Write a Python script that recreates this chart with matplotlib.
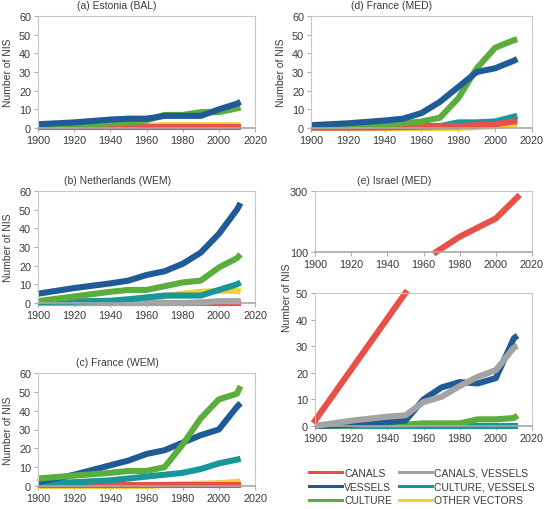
"""Number of NIS per introduction vector over time, five regional panels."""
import matplotlib
matplotlib.use("Agg")
import matplotlib.pyplot as plt
from matplotlib.lines import Line2D

plt.rcParams["font.family"] = ["Liberation Sans", "DejaVu Sans"]
plt.rcParams["font.size"] = 7.5
plt.rcParams["text.color"] = "#3a3a3a"
plt.rcParams["axes.labelcolor"] = "#3a3a3a"
plt.rcParams["xtick.color"] = "#3a3a3a"
plt.rcParams["ytick.color"] = "#3a3a3a"

years = [1900, 1920, 1940, 1950, 1960, 1970, 1980, 1990, 2000, 2010, 2012]

# (a) Estonia (BAL)
est_canals = [0.3, 0.3, 0.3, 0.3, 0.3, 0.3, 0.3, 0.3, 0.3, 0.3, 0.3]
est_vessels = [2, 3, 4.5, 5, 5, 6.5, 6.5, 6.5, 10, 13, 14]
est_culture = [1, 1.5, 2.5, 3, 4, 7, 7, 8.5, 8.5, 10.5, 11]
est_other = [1, 1, 1, 1, 1, 1.5, 1.5, 1.5, 1.5, 1.5, 1.5]

# (b) Netherlands (WEM)
nl_canals = [0.2, 0.2, 0.2, 0.2, 0.2, 0.2, 0.2, 0.2, 0.2, 0.2, 0.2]
nl_vessels = [5, 8, 10.5, 12, 15, 17, 21, 27, 37, 50, 53.5]
nl_culture = [1, 3.5, 6, 7, 7, 9, 11, 12, 19, 24, 26]
nl_cult_vess = [0.5, 0.8, 1.2, 2, 3, 4, 4, 4, 7, 10, 11]
nl_canals_vess = [0, 0, 0, 0, 0, 0, 0, 0.3, 1, 1, 1]
nl_other = [0, 0.5, 1, 1.5, 2, 3.5, 5, 6, 6.5, 6.5, 6]

# (c) France (WEM)
frw_canals = [0.5, 0.5, 0.5, 0.5, 0.5, 0.5, 0.5, 0.5, 0.5, 0.5, 0.5]
frw_vessels = [2, 6, 11, 13.5, 17, 19, 23, 27, 30, 42, 44]
frw_culture = [4, 5.5, 7, 8, 8, 10, 22, 36, 46, 49, 53]
frw_cult_vess = [1.5, 2, 3, 4, 5, 6, 7, 9, 12, 14, 14.5]
frw_other = [0, 0, 0, 0, 0, 0.5, 1, 1.2, 1.5, 2.2, 2.5]

# (d) France (MED)
frm_canals = [0.2, 0.2, 0.3, 0.5, 0.7, 1, 1, 1.5, 2, 3.5, 3.5]
frm_vessels = [1.5, 2.5, 4, 5, 8, 14, 22, 30, 32, 36, 37]
frm_culture = [1, 1.5, 2, 2.5, 3.5, 5.5, 16, 32, 43, 47, 47.5]
frm_cult_vess = [1, 1, 1, 1, 1, 1, 3, 3, 3.5, 6, 6.5]
frm_canals_vess = [1, 1, 1, 1, 1, 1, 1, 1, 2.5, 4.5, 5]
frm_other = [0, 0, 0, 0, 0, 0, 0, 0.5, 1, 1.8, 2]

# (e) Israel (MED)
isr_canals_low_years = [1900, 1950]
isr_canals_low = [2, 50]
isr_canals_high_years = [1967, 1980, 1990, 2000, 2012]
isr_canals_high = [100, 150, 180, 210, 280]
isr_vessels = [0, 0.5, 1.5, 2, 10, 14.5, 16.5, 16, 18, 33, 34]
isr_canals_vess = [0, 2, 3.5, 4, 9, 11, 15, 18.5, 21, 29.5, 30]
isr_culture = [0, 0.2, 0.5, 0.5, 1, 1, 1, 2.5, 2.5, 3, 4]
isr_cult_vess = [0, 0, 0, 0, 0, 0, 0, 0, 0, 0, 0]

C_CANALS = "#e8514a"
C_VESSELS = "#1f5b96"
C_CULTURE = "#5bae3d"
C_CANALS_VESS = "#a3a3a3"
C_CULT_VESS = "#17979a"
C_OTHER = "#f5d033"
LW = 4.4

W, H = 545, 510
fig = plt.figure(figsize=(W / 100, H / 100), dpi=100)


def make_ax(x0, x1, ytop, ybot):
    ax = fig.add_axes([x0 / W, 1 - ybot / H, (x1 - x0) / W, (ybot - ytop) / H])
    for s in ax.spines.values():
        s.set_color("#c8c8c8")
        s.set_linewidth(0.8)
    ax.spines["bottom"].set_color("#a8a8a8")
    ax.spines["bottom"].set_linewidth(1.2)
    ax.tick_params(length=3, width=0.8, color="#b0b0b0", pad=2, labelsize=7.8)
    ax.set_xlim(1900, 2020)
    ax.set_xticks(range(1900, 2021, 20))
    return ax


def draw(ax, series):
    for vals, col in series:
        ax.plot(years, vals, color=col, lw=LW, clip_on=False, solid_capstyle="butt")


def title(ax, txt):
    ax.annotate(txt, xy=(0.365, 1.0), xycoords="axes fraction", xytext=(0, 4),
                textcoords="offset points", ha="center", va="bottom", fontsize=7.5)


# (a)
ax = make_ax(38, 255, 17, 129)
draw(ax, [(est_other, C_OTHER), (est_canals, C_CANALS),
          (est_culture, C_CULTURE), (est_vessels, C_VESSELS)])
ax.set_ylim(0, 60)
ax.set_yticks(range(0, 61, 10))
ax.set_ylabel("Number of NIS", labelpad=4)
title(ax, "(a) Estonia (BAL)")

# (b)
ax = make_ax(38, 255, 192, 304)
draw(ax, [(nl_other, C_OTHER), (nl_canals, C_CANALS), (nl_canals_vess, C_CANALS_VESS),
          (nl_cult_vess, C_CULT_VESS), (nl_culture, C_CULTURE), (nl_vessels, C_VESSELS)])
ax.set_ylim(0, 60)
ax.set_yticks(range(0, 61, 10))
ax.set_ylabel("Number of NIS", labelpad=4)
title(ax, "(b) Netherlands (WEM)")

# (c)
ax = make_ax(38, 255, 374, 487)
draw(ax, [(frw_other, C_OTHER), (frw_canals, C_CANALS), (frw_cult_vess, C_CULT_VESS),
          (frw_vessels, C_VESSELS), (frw_culture, C_CULTURE)])
ax.set_ylim(0, 60)
ax.set_yticks(range(0, 61, 10))
ax.set_ylabel("Number of NIS", labelpad=4)
title(ax, "(c) France (WEM)")

# (d)
ax = make_ax(311, 532, 17, 129)
draw(ax, [(frm_other, C_OTHER), (frm_canals_vess, C_CANALS_VESS),
          (frm_cult_vess, C_CULT_VESS), (frm_canals, C_CANALS),
          (frm_culture, C_CULTURE), (frm_vessels, C_VESSELS)])
ax.set_ylim(0, 60)
ax.set_yticks(range(0, 61, 10))
ax.set_ylabel("Number of NIS", labelpad=4)
title(ax, "(d) France (MED)")

# (e) upper part
ax = make_ax(315, 532, 192, 253)
ax.plot(isr_canals_high_years, isr_canals_high, color=C_CANALS, lw=LW, clip_on=False)
ax.set_ylim(100, 300)
ax.set_yticks([100, 300])
title(ax, "(e) Israel (MED)")

# (e) lower part
ax = make_ax(315, 532, 294, 427)
draw(ax, [(isr_cult_vess, C_CULT_VESS), (isr_culture, C_CULTURE),
          (isr_vessels, C_VESSELS), (isr_canals_vess, C_CANALS_VESS)])
ax.plot(isr_canals_low_years, isr_canals_low, color=C_CANALS, lw=LW, clip_on=False)
ax.set_ylim(0, 50)
ax.set_yticks(range(0, 51, 10))
fig.text(287 / W, 1 - 298 / H, "Number of NIS", rotation=90, ha="center", va="center",
         fontsize=7.5)

# legend
labels = ["CANALS", "VESSELS", "CULTURE", "CANALS, VESSELS", "CULTURE, VESSELS",
          "OTHER VECTORS"]
colors = [C_CANALS, C_VESSELS, C_CULTURE, C_CANALS_VESS, C_CULT_VESS, C_OTHER]
handles = [Line2D([], [], color=c, lw=2.2) for c in colors]
fig.legend(handles, labels, ncol=2, loc="upper left",
           bbox_to_anchor=(309 / W, 1 - 469 / H), frameon=False, fontsize=7.5,
           handlelength=3.2, handletextpad=0.2, columnspacing=0.6, labelspacing=0.35,
           borderaxespad=0, borderpad=0.0)

fig.savefig("out.png", dpi=100)
